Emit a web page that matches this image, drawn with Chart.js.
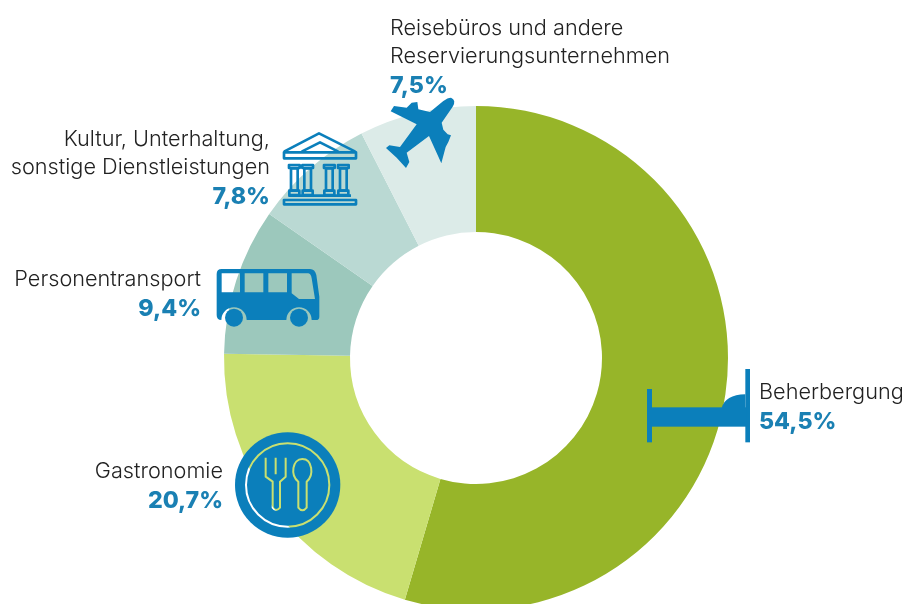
<!doctype html>
<html>

<head>
    <meta charset="utf-8">
    <title>Beherbergung und Gastronomie</title>
    <script src="https://cdn.jsdelivr.net/npm/chart.js@4/dist/chart.umd.min.js"></script>
    <style>
        html, body {
            margin: 0;
            height: 604px;
            overflow: hidden;
            background: #fff;
        }

        #wrap {
            position: relative;
            width: 909px;
            height: 604px;
            overflow: hidden;
        }

        canvas {
            position: absolute;
            left: 0;
            top: 0;
        }

        .label {
            position: absolute;
            font-family: Inter, sans-serif;
            font-size: 21.7px;
            font-weight: 300;
            line-height: 28px;
            color: #222;
            white-space: pre;
        }

        .label b {
            display: block;
            font-size: 23.2px;
            line-height: 32px;
            font-weight: 800;
            color: #1a80b3;
        }

        .right { text-align: right; }
    </style>
</head>

<body>
    <div id="wrap">
        <canvas id="myChart" width="909" height="620"></canvas>
    </div>
    <script>
        var categories = ['Beherbergung', 'Gastronomie', 'Personentransport',
            'Kultur, Unterhaltung,\nsonstige Dienstleistungen', 'Reisebüros und andere\nReservierungsunternehmen'];
        var shares = [54.5, 20.7, 9.4, 7.8, 7.5];
        var sliceColors = ['#97b529', '#c9e070', '#9cc8bc', '#bad9d3', '#dcebe8'];

        var BLUE = '#0b7fbb';

        // label boxes, same order as categories
        var spots = [
            { left: 759, top: 377 },
            { right: 686, top: 456 },
            { right: 708, top: 264 },
            { right: 639, top: 124 },
            { left: 390, top: 13 }
        ];

        var wrap = document.getElementById('wrap');
        categories.forEach(function(c, i) {
            var $d = document.createElement('div');
            $d.className = 'label' + (spots[i].right ? ' right' : '');
            $d.style.top = spots[i].top + 'px';
            if (spots[i].left) $d.style.left = spots[i].left + 'px';
            if (spots[i].right) $d.style.right = spots[i].right + 'px';
            $d.textContent = c;
            var $b = document.createElement('b');
            $b.textContent = shares[i].toFixed(1).replace('.', ',') + '%';
            $d.appendChild($b);
            wrap.appendChild($d);
        });

        // helper: icons were measured from 3x crops, so they are drawn in that space
        function inCrop(ctx, x, y, fn) {
            ctx.save();
            ctx.translate(x, y);
            ctx.scale(1 / 3, 1 / 3);
            fn();
            ctx.restore();
        }

        function drawPlane(ctx) {
            inCrop(ctx, 380, 92, function() {
                ctx.fillStyle = BLUE;
                ctx.fill(new Path2D('M213 17 Q230 24 218 44 L185 92 L190 113 L203 127 L213 130 L205 150 L197 165 L184 214 L147 132 L80 182 L88 210 L78 228 L50 197 L18 168 L28 160 L60 165 L110 97 L32 58 L42 42 L80 47 L95 32 L112 30 L115 52 L150 60 L190 27 Q203 17 213 17 Z'));
            });
        }

        function drawTemple(ctx) {
            inCrop(ctx, 275, 125, function() {
                ctx.strokeStyle = BLUE;
                ctx.lineWidth = 8;
                ctx.lineJoin = 'round';
                ctx.stroke(new Path2D('M27 80 L132 25 L241 80 M80 80 L135 52 L190 80'));
                ctx.strokeRect(27, 82, 216, 18);
                ctx.strokeRect(27, 225, 216, 13);
                ctx.stroke(new Path2D('M40 212 H228'));
                [58, 98, 163, 205].forEach(function(x) {
                    ctx.strokeRect(x - 16, 120, 32, 9);
                    ctx.strokeRect(x - 10, 130, 20, 67);
                    ctx.strokeRect(x - 15, 197, 30, 13);
                });
            });
        }

        function drawBus(ctx) {
            inCrop(ctx, 200, 90, function() {
                ctx.fillStyle = BLUE;
                var body = 'M65 537 H330 Q345 537 349 555 L358 620 V680 Q358 690 348 690 H335 A38 38 0 0 0 259 690 H140 A38 38 0 0 0 64 690 Q50 690 50 675 V552 Q50 537 65 537 Z ';
                var windows = 'M65 550 H120 V607 H65 Z M134 550 H190 V607 H134 Z M205 550 H261 V607 H205 Z ' +
                    'M275 550 H325 Q333 552 335 565 L345 627 H297 L275 610 Z';
                ctx.fill(new Path2D(body + windows), 'evenodd');
                [102, 297].forEach(function(x) {
                    ctx.beginPath();
                    ctx.arc(x, 683, 27, 0, Math.PI * 2);
                    ctx.fill();
                });
            });
        }

        function drawBed(ctx) {
            inCrop(ctx, 630, 360, function() {
                ctx.fillStyle = BLUE;
                ctx.fillRect(51, 87, 15, 160);
                ctx.fillRect(346, 27, 14, 220);
                ctx.fillRect(60, 142, 290, 58);
                ctx.fill(new Path2D('M275 144 Q285 105 346 103 V144 Z'));
            });
        }

        // the ring and cutlery are cut out of the disc, the slices show through
        function drawPlate(ctx) {
            var off = document.createElement('canvas');
            off.width = 130;
            off.height = 130;
            var o = off.getContext('2d');
            o.scale(1 / 3, 1 / 3);
            o.fillStyle = BLUE;
            o.beginPath();
            o.arc(188, 195, 158, 0, Math.PI * 2);
            o.fill();
            o.globalCompositeOperation = 'destination-out';
            o.lineWidth = 6;
            o.lineJoin = 'round';
            o.beginPath();
            o.arc(188, 195, 125, 0, Math.PI * 2);
            o.stroke();
            o.translate(90, 75);
            o.stroke(new Path2D('M32 38 V95 L53 110 V188 Q63 202 75 188 V110 L92 95 V38 M62 38 V88'));
            o.stroke(new Path2D('M130 110 C105 90 112 42 142 42 C172 42 178 90 155 110 V188 Q142 204 130 188 Z'));
            ctx.drawImage(off, 225, 420);
        }

        var iconPlugin = {
            id: 'icons',
            afterDraw: function(chart) {
                var ctx = chart.ctx;
                drawPlane(ctx);
                drawTemple(ctx);
                drawBus(ctx);
                drawBed(ctx);
                drawPlate(ctx);
            }
        };

        new Chart(document.getElementById('myChart').getContext('2d'), {
            type: 'doughnut',
            data: {
                labels: categories,
                datasets: [{
                    data: shares,
                    backgroundColor: sliceColors,
                    borderWidth: 0
                }]
            },
            options: {
                responsive: false,
                animation: false,
                cutout: '50%',
                layout: { padding: { left: 224, right: 181, top: 106, bottom: 10 } },
                plugins: {
                    legend: { display: false },
                    tooltip: { enabled: false }
                }
            },
            plugins: [iconPlugin]
        });
    </script>
</body>

</html>
